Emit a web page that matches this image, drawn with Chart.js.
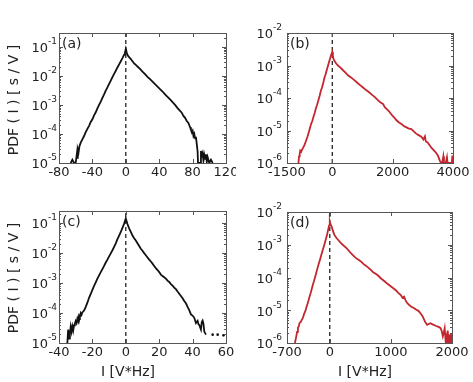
<!DOCTYPE html>
<html>
<head>
<meta charset="utf-8">
<script src="https://cdn.jsdelivr.net/npm/chart.js@4.4.1/dist/chart.umd.min.js"></script>
<style>
  html, body { margin: 0; padding: 0; background: #fff; }
  #fig { position: relative; width: 473px; height: 382px; }
  #fig canvas { position: absolute; }
</style>
</head>
<body>
<div id="fig">
  <canvas id="pa" width="236" height="190" style="left:0;top:0"></canvas>
  <canvas id="pb" width="237" height="190" style="left:236px;top:0"></canvas>
  <canvas id="pc" width="236" height="192" style="left:0;top:190px"></canvas>
  <canvas id="pd" width="237" height="192" style="left:236px;top:190px"></canvas>
</div>
<script>
// panel (a)
const xA = [-66, -64, -62, -60, -58.5, -58, -57.5, -56.5, -55.5, -54, -52, -50, -48, -46, -44, -42, -40, -38, -36, -34, -32, -30, -28, -26, -24, -22, -20, -18, -16, -14, -12, -10, -8, -6, -4, -2, -1, 0,
  1, 2, 3, 4, 6, 8, 10, 12, 14, 17, 20, 23, 26, 29, 32, 35, 38, 41, 44, 47, 50, 53, 56, 59, 62, 65, 67, 69, 71, 73, 75, 77, 78, 79, 80, 81, 82, 83, 84, 85, 86, 86.5,
  88, 89, 90, 91, 92, 93, 94, 95, 96, 97, 98, 100, 102, 104];
const yA = [1.0e-5, 1.3e-5, 1.0e-5, 1.0e-5, 2.2e-5, 1.5e-5, 3.0e-5, 2.4e-5, 3.8e-5, 5.0e-5, 6.5e-5, 8.5e-5, 1.15e-4, 1.5e-4, 1.9e-4, 2.6e-4, 3.2e-4, 4.4e-4, 5.6e-4, 7.6e-4, 1.0e-3, 1.3e-3, 1.75e-3, 2.3e-3, 3.1e-3, 4.0e-3, 5.3e-3, 6.9e-3, 9.0e-3, 1.18e-2, 1.5e-2, 1.95e-2, 2.5e-2, 3.2e-2, 4.1e-2, 5.4e-2, 6.4e-2, 8.5e-2,
  6.5e-2, 5.3e-2, 4.8e-2, 4.4e-2, 3.8e-2, 3.2e-2, 2.7e-2, 2.4e-2, 2.1e-2, 1.75e-2, 1.4e-2, 1.15e-2, 9.3e-3, 7.7e-3, 6.4e-3, 5.2e-3, 4.3e-3, 3.5e-3, 2.9e-3, 2.3e-3, 1.9e-3, 1.55e-3, 1.25e-3, 1.0e-3, 7.8e-4, 6.2e-4, 5.4e-4, 4.2e-4, 3.6e-4, 2.8e-4, 2.4e-4, 1.7e-4, 1.4e-4, 1.15e-4, 1.3e-4, 8.5e-5, 1.0e-4, 7.0e-5, 8.0e-5, 4.5e-5, 2.5e-5, 1.0e-5,
  1.0e-5, 1.0e-5, 2.6e-5, 1.8e-5, 2.2e-5, 1.2e-5, 1.9e-5, 1.4e-5, 2.0e-5, 1.1e-5, 1.6e-5, 1.0e-5, 1.3e-5, 1.0e-5];

// panel (b)
const xB = [-1120, -1100, -1080, -1060, -1030, -1000, -970, -930, -900, -860, -820, -780, -740, -700, -660, -620, -580, -540, -500, -460, -420, -380, -340, -300, -260, -220, -180, -140, -100, -60, -30, 0,
  20, 40, 80, 130, 190, 260, 340, 420, 520, 620, 720, 820, 920, 1020, 1120, 1220, 1320, 1420, 1520, 1600, 1680, 1740, 1800, 1880, 1960, 2040, 2120, 2200, 2290, 2380, 2460, 2540, 2620, 2700, 2780, 2860, 2950, 3020, 3070, 3100, 3160, 3220, 3290, 3360, 3430, 3500, 3560, 3600,
  3640, 3680, 3700, 3760, 3800, 3820, 3960, 3980, 4000];
const yB = [1.0e-6, 1.6e-6, 1.9e-6, 2.4e-6, 2.2e-6, 2.6e-6, 2.6e-6, 3.4e-6, 4.0e-6, 5.1e-6, 6.5e-6, 8.6e-6, 1.2e-5, 1.6e-5, 2.0e-5, 2.7e-5, 3.5e-5, 4.9e-5, 6.3e-5, 8.5e-5, 1.15e-4, 1.65e-4, 2.1e-4, 2.9e-4, 4.2e-4, 5.4e-4, 7.4e-4, 1.0e-3, 1.35e-3, 1.8e-3, 2.2e-3, 2.6e-3,
  2.0e-3, 1.6e-3, 1.35e-3, 1.15e-3, 1.0e-3, 8.8e-4, 7.4e-4, 6.3e-4, 5.0e-4, 4.3e-4, 3.6e-4, 3.0e-4, 2.5e-4, 2.1e-4, 1.75e-4, 1.5e-4, 1.25e-4, 1.05e-4, 8.4e-5, 7.3e-5, 6.6e-5, 5.2e-5, 4.6e-5, 3.9e-5, 3.1e-5, 2.6e-5, 2.1e-5, 1.8e-5, 1.6e-5, 1.35e-5, 1.25e-5, 1.15e-5, 1.1e-5, 9.4e-6, 8.0e-6, 7.2e-6, 6.4e-6, 5.3e-6, 6.6e-6, 4.6e-6, 4.3e-6, 3.6e-6, 2.9e-6, 2.5e-6, 2.1e-6, 1.7e-6, 1.2e-6, 1.0e-6,
  1.0e-6, 1.6e-6, 1.0e-6, 1.0e-6, 1.5e-6, 1.0e-6, 1.0e-6, 1.7e-6, 1.0e-6];

// panel (c)
const xC = [-35, -34.5, -34, -33.5, -33, -32.5, -32, -31.5, -31, -30.5, -30, -29.5, -29, -28.5, -28, -27.5, -27, -26.5, -26, -25, -24, -23, -22, -21, -20, -19, -18, -17, -16, -15, -14, -13, -12, -11, -10, -9, -8, -7, -6, -5, -4, -3, -2, -1, 0,
  1, 2, 3, 4, 5, 6, 7, 8, 9, 10, 11, 12, 13, 14, 15, 16, 17, 18, 19, 20, 21, 22, 23, 24, 25, 26, 27, 28, 29, 30, 31, 32, 33, 34, 35, 36, 37, 38, 39, 40, 41, 42, 43, 43.5, 44, 45, 45.5, 46, 46.5, 47, 48];
const yC = [1.0e-5, 2.8e-5, 1.4e-5, 2.0e-5, 3.5e-5, 2.4e-5, 3.6e-5, 2.6e-5, 3.9e-5, 4.5e-5, 5.4e-5, 4.6e-5, 6.5e-5, 5.3e-5, 8.2e-5, 7.4e-5, 9.8e-5, 8.6e-5, 1.05e-4, 1.2e-4, 1.6e-4, 2.2e-4, 3.2e-4, 4.3e-4, 5.9e-4, 8.0e-4, 1.05e-3, 1.4e-3, 1.8e-3, 2.3e-3, 2.9e-3, 3.7e-3, 4.8e-3, 6.0e-3, 7.7e-3, 9.7e-3, 1.23e-2, 1.6e-2, 2.1e-2, 2.9e-2, 3.8e-2, 5.0e-2, 6.8e-2, 9.5e-2, 0.14,
  9.2e-2, 6.6e-2, 5.0e-2, 3.8e-2, 3.1e-2, 2.6e-2, 2.1e-2, 1.7e-2, 1.38e-2, 1.18e-2, 9.9e-3, 8.4e-3, 7.1e-3, 6.0e-3, 5.2e-3, 4.4e-3, 3.7e-3, 3.1e-3, 2.7e-3, 2.3e-3, 1.9e-3, 1.7e-3, 1.55e-3, 1.4e-3, 1.2e-3, 1.08e-3, 9.2e-4, 8.1e-4, 7.0e-4, 6.2e-4, 5.2e-4, 4.4e-4, 3.7e-4, 3.1e-4, 2.5e-4, 2.1e-4, 1.6e-4, 1.25e-4, 9.0e-5, 8.2e-5, 6.9e-5, 4.6e-5, 5.5e-5, 4.2e-5, 4.0e-5, 2.8e-5, 5.0e-5, 5.6e-5, 4.4e-5, 2.4e-5, 1.9e-5];
const xCdots = [52, 55, 58.5];
const yCdots = [1.9e-5, 1.9e-5, 1.8e-5];

// panel (d)
const xD = [-570, -560, -548, -535, -521, -508, -494, -475, -458, -440, -420, -400, -386, -365, -348, -331, -310, -293, -277, -260, -240, -223, -205, -187, -169, -150, -133, -115, -95, -78, -60, -40, -22, -10, 0,
  10, 32, 50, 75, 110, 145, 183, 225, 265, 305, 346, 390, 430, 470, 509, 550, 590, 630, 671, 710, 750, 790, 834, 870, 910, 950, 997, 1040, 1080, 1120, 1159, 1190, 1215, 1240, 1267, 1300, 1340, 1376, 1410, 1450, 1484, 1520, 1560, 1593, 1620, 1650, 1680, 1701, 1740, 1780, 1809, 1830, 1850, 1864, 1880, 1895, 1910, 1918, 1930, 1945, 1960, 1972, 1985, 2000];
const yD = [1.0e-6, 1.25e-6, 1.6e-6, 2.2e-6, 2.9e-6, 3.2e-6, 4.1e-6, 4.4e-6, 5.1e-6, 5.8e-6, 7.8e-6, 9.4e-6, 1.17e-5, 1.55e-5, 2.0e-5, 2.6e-5, 3.5e-5, 4.6e-5, 6.0e-5, 7.6e-5, 1.04e-4, 1.35e-4, 1.8e-4, 2.4e-4, 3.1e-4, 4.1e-4, 5.3e-4, 6.9e-4, 9.2e-4, 1.2e-3, 1.58e-3, 2.2e-3, 3.16e-3, 3.9e-3, 5.1e-3,
  4.3e-3, 3.55e-3, 2.7e-3, 2.0e-3, 1.6e-3, 1.35e-3, 1.12e-3, 9.5e-4, 8.2e-4, 6.8e-4, 5.5e-4, 4.6e-4, 3.9e-4, 3.5e-4, 3.1e-4, 2.6e-4, 2.3e-4, 2.0e-4, 1.7e-4, 1.45e-4, 1.3e-4, 1.15e-4, 9.5e-5, 8.4e-5, 7.3e-5, 6.3e-5, 5.4e-5, 4.7e-5, 4.1e-5, 3.4e-5, 2.95e-5, 2.4e-5, 2.6e-5, 2.0e-5, 1.66e-5, 1.45e-5, 1.25e-5, 1.17e-5, 1.05e-5, 9.6e-6, 8.1e-6, 6.5e-6, 4.4e-6, 3.6e-6, 3.8e-6, 4.0e-6, 3.7e-6, 3.6e-6, 3.3e-6, 3.1e-6, 2.9e-6, 2.4e-6, 1.6e-6, 2.0e-6, 2.8e-6, 1.2e-6, 1.6e-6, 1.0e-6, 2.4e-6, 1.0e-6, 1.8e-6, 1.0e-6, 1.9e-6, 1.0e-6];

// axis ticks
const xTicksA = [-80, -40, 0, 40, 80, 120];
const xTicksB = [-1500, 0, 2000, 4000];
const xTicksC = [-40, -20, 0, 20, 40, 60];
const xTicksD = [-700, 0, 1000, 2000];
const yTicksAC = [1e-5, 1e-4, 1e-3, 1e-2, 1e-1];
const yTicksBD = [1e-6, 1e-5, 1e-4, 1e-3, 1e-2];

const FONT = '"DejaVu Sans", sans-serif';
const TXT = '#222';

// box, inward ticks, 10^n labels and the free text of each panel
const panelDeco = {
  id: 'panelDeco',
  afterDraw(chart, args, opts) {
    const ctx = chart.ctx;
    const {left, top, right, bottom} = chart.chartArea;
    const xs = chart.scales.x, ys = chart.scales.y;
    ctx.save();
    ctx.strokeStyle = '#555';
    ctx.lineWidth = 1;
    ctx.strokeRect(Math.round(left) + 0.5, Math.round(top) + 0.5, Math.round(right - left), Math.round(bottom - top));
    ctx.beginPath();
    xs.ticks.forEach(t => {
      const px = Math.round(xs.getPixelForValue(t.value)) + 0.5;
      ctx.moveTo(px, bottom); ctx.lineTo(px, bottom - 4);
      ctx.moveTo(px, top); ctx.lineTo(px, top + 4);
    });
    const lo = Math.floor(Math.log10(ys.min) + 1e-9), hi = Math.ceil(Math.log10(ys.max));
    for (let e = lo; e <= hi; e++) {
      for (let m = 1; m < 10; m++) {
        const v = m * Math.pow(10, e);
        if (v < ys.min * 0.999 || v > ys.max * 1.001) continue;
        const py = Math.round(ys.getPixelForValue(v)) + 0.5;
        const len = m === 1 ? 4 : 2;
        ctx.moveTo(left, py); ctx.lineTo(left + len, py);
        ctx.moveTo(right, py); ctx.lineTo(right - len, py);
      }
    }
    ctx.stroke();

    ctx.fillStyle = TXT;
    ctx.textBaseline = 'middle';
    ys.ticks.forEach(t => {
      const py = ys.getPixelForValue(t.value);
      const ex = String(Math.round(Math.log10(t.value)));
      ctx.font = '9px ' + FONT;
      const ew = ctx.measureText(ex).width;
      const xr = left - opts.labelGap;
      ctx.textAlign = 'left';
      ctx.fillText(ex, xr - ew, py - 5);
      ctx.font = '13px ' + FONT;
      ctx.textAlign = 'right';
      ctx.fillText('10', xr - ew, py + 2);
    });

    ctx.font = '14px ' + FONT;
    ctx.textAlign = 'left';
    ctx.fillText(opts.letter, left + 3, top + 11);

    if (opts.xTitle) {
      ctx.textAlign = 'center';
      ctx.fillText(opts.xTitle.text, opts.xTitle.x, opts.xTitle.y);
    }
    if (opts.yTitle) {
      ctx.translate(opts.yTitle.x, opts.yTitle.y);
      ctx.rotate(-Math.PI / 2);
      ctx.textAlign = 'center';
      ctx.font = '14px ' + FONT;
      ctx.fillText(opts.yTitle.text, 0, 0);
    }
    ctx.restore();
  }
};

function makePanel(id, xv, yv, color, o) {
  const canvas = document.getElementById(id);
  const datasets = [
    {
      data: xv.map((x, i) => ({x: x, y: yv[i]})),
      borderColor: color,
      borderWidth: 1.8,
      showLine: true,
      pointRadius: 0,
      tension: 0
    },
    {
      data: [{x: 0, y: o.yMin}, {x: 0, y: o.yMax}],
      borderColor: '#111',
      borderWidth: 1.2,
      borderDash: [4, 3],
      showLine: true,
      pointRadius: 0
    }
  ];
  if (o.dotsX) {
    datasets.push({
      data: o.dotsX.map((x, i) => ({x: x, y: o.dotsY[i]})),
      showLine: false,
      pointRadius: 1.3,
      backgroundColor: color,
      borderWidth: 0
    });
  }
  return new Chart(canvas, {
    type: 'scatter',
    data: {datasets: datasets},
    options: {
      responsive: false,
      animation: false,
      layout: {padding: {left: 0, top: o.top, right: canvas.width - o.right, bottom: 0}},
      plugins: {
        legend: {display: false},
        tooltip: {enabled: false},
        panelDeco: {letter: o.letter, labelGap: o.gap, xTitle: o.xTitle, yTitle: o.yTitle}
      },
      scales: {
        x: {
          type: 'linear',
          min: o.xTicks[0],
          max: o.xTicks[o.xTicks.length - 1],
          grid: {display: false, drawTicks: false},
          border: {display: false},
          afterBuildTicks: s => { s.ticks = o.xTicks.map(v => ({value: v})); },
          afterFit: s => { s.height = canvas.height - o.bottom; s.paddingLeft = 0; s.paddingRight = 0; },
          ticks: {
            color: TXT,
            font: {family: FONT, size: 13},
            padding: 2,
            maxRotation: 0,
            autoSkip: false,
            callback: v => String(v)
          }
        },
        y: {
          type: 'logarithmic',
          min: o.yMin,
          max: o.yMax,
          grid: {display: false, drawTicks: false},
          border: {display: false},
          afterBuildTicks: s => { s.ticks = o.yTicks.map(v => ({value: v})); },
          afterFit: s => { s.width = o.left; s.paddingTop = 0; s.paddingBottom = 0; },
          ticks: {display: false}
        }
      }
    },
    plugins: [panelDeco]
  });
}

const BLACK = '#111111';
const RED = '#c3262f';
const yTitleText = 'PDF ( I ) [ s / V ]';
const xTitleText = 'I [V*Hz]';

makePanel('pa', xA, yA, BLACK, {
  left: 59, top: 33, right: 226, bottom: 163, gap: 2,
  yMin: 1e-5, yMax: 0.3, xTicks: xTicksA, yTicks: yTicksAC, letter: '(a)',
  yTitle: {text: yTitleText, x: 14, y: 100}
});
makePanel('pb', xB, yB, RED, {
  left: 51, top: 33, right: 217, bottom: 163, gap: 5,
  yMin: 1e-6, yMax: 1e-2, xTicks: xTicksB, yTicks: yTicksBD, letter: '(b)'
});
makePanel('pc', xC, yC, BLACK, {
  left: 59, top: 21, right: 226, bottom: 153, gap: 2,
  yMin: 1e-5, yMax: 0.25, xTicks: xTicksC, yTicks: yTicksAC, letter: '(c)',
  dotsX: xCdots, dotsY: yCdots,
  yTitle: {text: yTitleText, x: 14, y: 88},
  xTitle: {text: xTitleText, x: 128, y: 182}
});
makePanel('pd', xD, yD, RED, {
  left: 51, top: 22, right: 216, bottom: 153, gap: 5,
  yMin: 1e-6, yMax: 1e-2, xTicks: xTicksD, yTicks: yTicksBD, letter: '(d)',
  xTitle: {text: xTitleText, x: 129, y: 182}
});
</script>
</body>
</html>
